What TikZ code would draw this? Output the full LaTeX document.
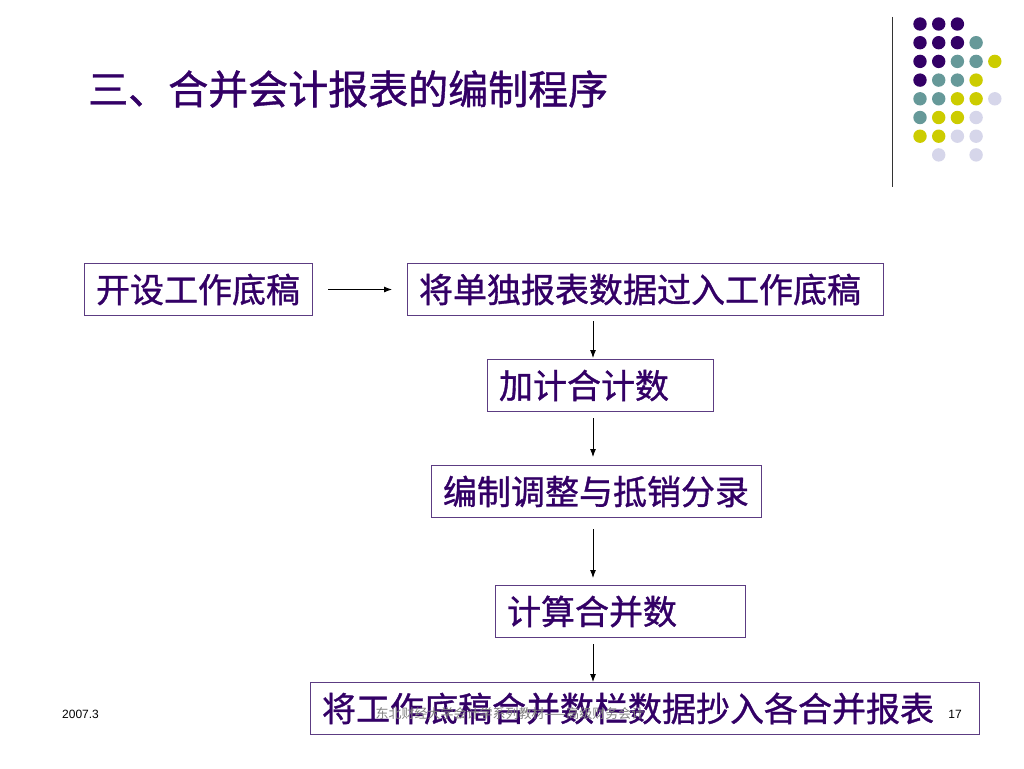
\documentclass[tikz,border=0pt]{standalone}
\usepackage{fontspec}
\setmainfont{Liberation Sans}
\newfontfamily\cjk{Noto Sans CJK SC}
\newfontfamily\cjkheavy{Noto Sans CJK SC}[FakeBold=1.0]
\usepackage{xcolor}
\usepackage{tikz}
\usetikzlibrary{arrows.meta}
\definecolor{txtpurple}{RGB}{51,0,102}
\definecolor{boxpurple}{RGB}{92,60,130}
\definecolor{dotP}{RGB}{51,0,102}
\definecolor{dotT}{RGB}{102,153,153}
\definecolor{dotY}{RGB}{204,204,0}
\definecolor{dotL}{RGB}{214,214,234}
\tikzset{
  stepbox/.style={draw=boxpurple, line width=1pt, text=txtpurple, anchor=north west,
    font=\cjkheavy\fontsize{34}{36}\selectfont, minimum height=52pt, inner xsep=11.5pt, align=left},
  flow/.style={-{Latex[length=8pt,width=6pt]}, line width=0.9pt, black}
}
\begin{document}
\begin{tikzpicture}[x=1pt,y=-1pt]
		\fill[white] (0,0) rectangle (1024,768);
		\node[anchor=west, text=txtpurple, font=\cjkheavy\fontsize{40}{44}\selectfont, inner sep=0pt] (title) at (88,89) {三、合并会计报表的编制程序};
		\draw[line width=1pt, black!80] (892,17) -- (892,187);
		\foreach \row/\cols in {0/{P,P,P,N,N}, 1/{P,P,P,T,N}, 2/{P,P,T,T,Y}, 3/{P,T,T,Y,N},
		                        4/{T,T,Y,Y,L}, 5/{T,Y,Y,L,N}, 6/{Y,Y,L,L,N}, 7/{N,L,N,L,N}} {
		  \foreach \c [count=\k from 0] in \cols {
		    \if N\c\else
		      \fill[dot\c] ({920+18.7*\k},{24+18.7*\row}) circle (6.7);
		    \fi
		  }
		}
		\node[stepbox, text width=205pt] (open) at (84,263) {开设工作底稿};
		\node[stepbox, text width=453pt] (post) at (407,263) {将单独报表数据过入工作底稿};
		\node[stepbox, text width=203pt] (sum) at (487,359) {加计合计数};
		\node[stepbox, text width=307pt] (entry) at (431,465) {编制调整与抵销分录};
		\node[stepbox, text width=227pt] (calc) at (495,585) {计算合并数};
		\node[stepbox, text width=646pt] (copy) at (310,682) {将工作底稿合并数栏数据抄入各合并报表};
		\coordinate (axis) at (593,0);
		\draw[flow, shorten <=15pt, shorten >=15pt] (open) -- (post);
		\foreach \a/\b/\s/\t in {post/sum/5/1, sum/entry/6/8, entry/calc/11/7, calc/copy/6/0} {
		  \draw[flow, shorten <=\s pt, shorten >=\t pt] (\a.south -| axis) -- (\b.north -| axis);
		}
		\node[anchor=west, font=\fontsize{12}{14}\selectfont, inner sep=0pt] (date) at (62,714) {2007.3};
		\node[font=\cjk\fontsize{13}{15}\selectfont, text=black!50, inner sep=0pt] (footer) at (510,714) {东北财经大学会计学系列教材——高级财务会计};
		\node[anchor=east, font=\fontsize{12}{14}\selectfont, inner sep=0pt] (page) at (962,714) {17};
	\end{tikzpicture}
\end{document}
